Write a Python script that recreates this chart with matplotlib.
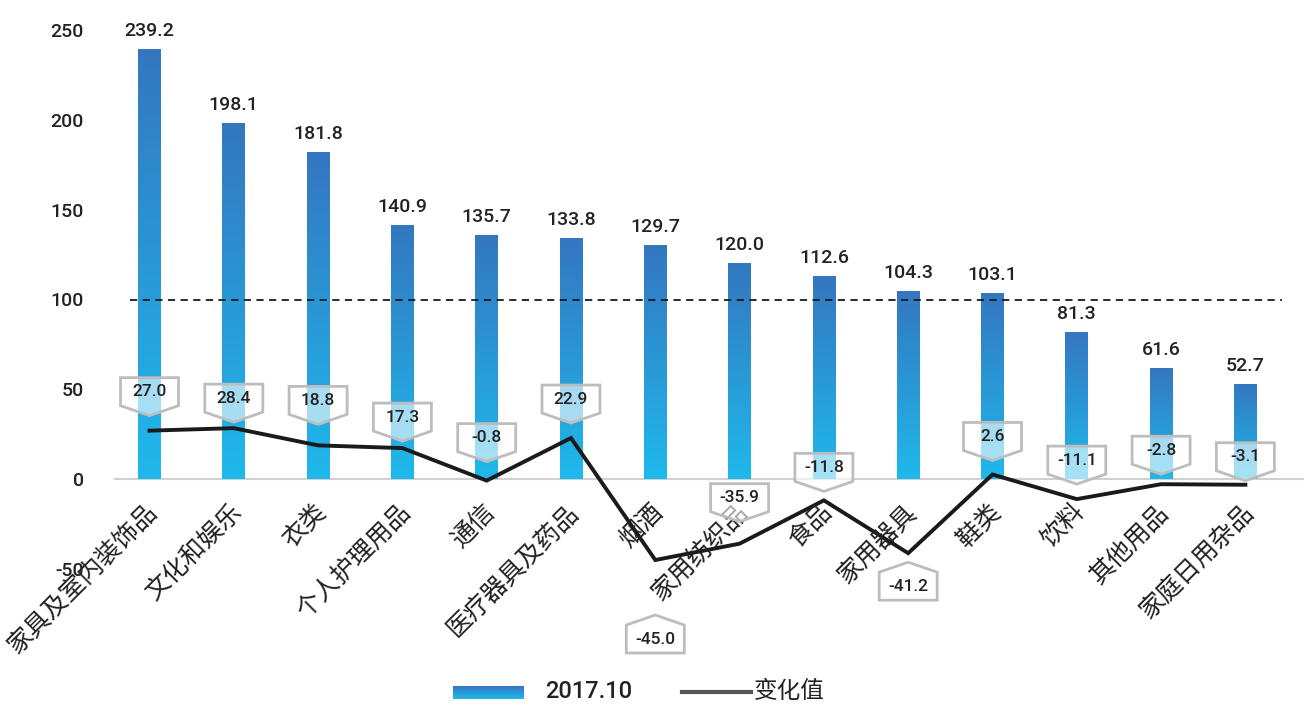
import numpy as np
import matplotlib
matplotlib.use("Agg")
import matplotlib.pyplot as plt
import matplotlib.transforms as mtransforms
from matplotlib.colors import LinearSegmentedColormap
from matplotlib.patches import Polygon

plt.rcParams['font.family'] = ['Roboto', 'Noto Sans CJK SC', 'DejaVu Sans']

categories = ["家具及室内装饰品", "文化和娱乐", "衣类", "个人护理用品", "通信", "医疗器具及药品",
              "烟酒", "家用纺织品", "食品", "家用器具", "鞋类", "饮料", "其他用品", "家庭日用杂品"]
values_2017 = [239.2, 198.1, 181.8, 140.9, 135.7, 133.8, 129.7, 120.0, 112.6, 104.3, 103.1, 81.3, 61.6, 52.7]
changes = [27.0, 28.4, 18.8, 17.3, -0.8, 22.9, -45.0, -35.9, -11.8, -41.2, 2.6, -11.1, -2.8, -3.1]
yticks = [-50, 0, 50, 100, 150, 200, 250]
series_bar = "2017.10"
series_line = "变化值"
ref_level = 100

# callout style: direction (+1 above pointing down, -1 below pointing up) and gap in pixels
callout_dir = [1, 1, 1, 1, 1, 1, -1, 1, 1, -1, 1, 1, 1, 1]
callout_gap = [15, 6, 21, 7, 19, 15, 55, 22, 9, 9, 14, 15, 10, 4]

W, H, DPI = 1306, 707, 100
fig = plt.figure(figsize=(W / DPI, H / DPI), dpi=DPI)
ax_left = 107.35 / W
ax_right = 1304.4 / W
ax_top = 1 - 30 / H
ax_bottom = 1 - 569 / H
ax = fig.add_axes([ax_left, ax_bottom, ax_right - ax_left, ax_top - ax_bottom])

cmap = LinearSegmentedColormap.from_list("bar", ["#1FB9EB", "#3477C0"])
grad = np.linspace(0, 1, 256).reshape(-1, 1)
bw = 0.27
x = np.arange(len(categories))
for i, v in enumerate(values_2017):
    ax.imshow(grad, cmap=cmap, origin="lower", aspect="auto",
              extent=(i - bw / 2, i + bw / 2, 0, v), zorder=2, interpolation="bicubic")
    ax.annotate(f"{v:.1f}", (i, v), xytext=(0, 7), textcoords="offset points",
                ha="center", va="bottom", fontsize=14, color="#222222", zorder=5,
                fontweight="medium")

ax.set_xlim(-0.5, 13.7)
ax.set_ylim(-50, 250)

ax.plot([-0.41, 13.7], [0, 0], color="#D0D0D0", lw=1.5, zorder=1)
ax.plot([-0.23, 13.43], [ref_level, ref_level], color="#1a1a1a", lw=1.3,
        ls=(0, (4, 3)), zorder=3)

ax.plot(x, changes, color="#1a1a1a", lw=2.8, zorder=4, solid_joinstyle="miter")

# callouts (in inches relative to the data point)
bwid, bh, tip = 0.58, 0.28, 0.10
for i, c in enumerate(changes):
    d = callout_dir[i]
    g = callout_gap[i] / DPI
    trans = fig.dpi_scale_trans + mtransforms.ScaledTranslation(i, c, ax.transData)
    if d > 0:
        ty = g
        verts = [(0, ty), (-bwid / 2, ty + tip), (-bwid / 2, ty + tip + bh),
                 (bwid / 2, ty + tip + bh), (bwid / 2, ty + tip)]
        cy = ty + tip + bh / 2
    else:
        ty = -g
        verts = [(0, ty), (-bwid / 2, ty - tip), (-bwid / 2, ty - tip - bh),
                 (bwid / 2, ty - tip - bh), (bwid / 2, ty - tip)]
        cy = ty - tip - bh / 2
    poly = Polygon(verts, closed=True, transform=trans, facecolor=(1, 1, 1, 0.6),
                   edgecolor="#BDBDBD", lw=2, zorder=6, clip_on=False)
    ax.add_patch(poly)
    ax.text(0, cy, f"{c:.1f}", transform=trans, ha="center", va="center",
            fontsize=12.5, color="#222222", zorder=7, clip_on=False, fontweight="medium")

# category labels
for i, cat in enumerate(categories):
    ax.annotate(cat, (i, 0), xytext=(3, -21), textcoords="offset points",
                rotation=45, ha="right", va="center", rotation_mode="anchor",
                fontsize=18, color="#222222", zorder=5, annotation_clip=False)

ax.set_xticks([])
ax.set_yticks(yticks)
ax.set_yticklabels([str(t) for t in yticks], fontsize=14, color="#222222", fontweight="medium")
ax.tick_params(axis="y", length=0, pad=17)
for s in ax.spines.values():
    s.set_visible(False)
ax.set_facecolor("none")

# legend (manual)
lax = fig.add_axes([453 / W, 1 - 699 / H, 71 / W, 13 / H])
lax.imshow(grad, cmap=cmap, origin="lower", aspect="auto", extent=(0, 1, 0, 1))
lax.set_axis_off()
fig.text(545 / W, 1 - 692 / H, series_bar, fontsize=17, color="#222222", va="center", ha="left",
         fontweight="medium")
fig.add_artist(plt.Line2D([682 / W, 751 / W], [1 - 692 / H, 1 - 692 / H],
                          color="#555555", lw=3, transform=fig.transFigure))
fig.text(754 / W, 1 - 692 / H, series_line, fontsize=17, color="#222222", va="center", ha="left")

fig.savefig("out.png", dpi=DPI)
